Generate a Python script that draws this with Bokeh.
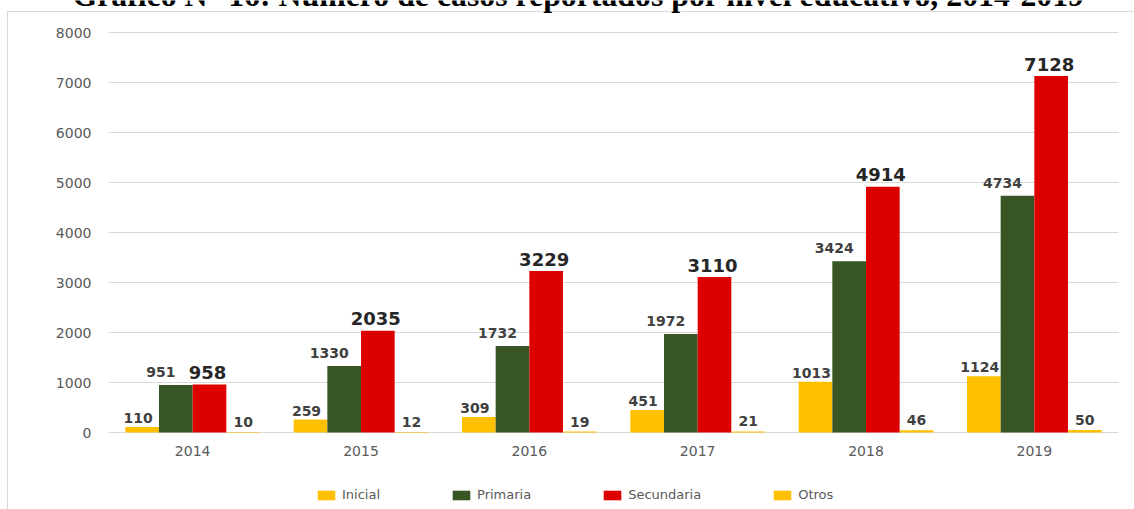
from bokeh.plotting import figure
from bokeh.models import ColumnDataSource, Range1d, Legend, LegendItem
from bokeh.transform import dodge
from bokeh.core.properties import value
from bokeh.embed import file_html
from bokeh.resources import INLINE

# ---- data ----
years = ["2014", "2015", "2016", "2017", "2018", "2019"]
inicial = [110, 259, 309, 451, 1013, 1124]
primaria = [951, 1330, 1732, 1972, 3424, 4734]
secundaria = [958, 2035, 3229, 3110, 4914, 7128]
otros = [10, 12, 19, 21, 46, 50]
series_names = ["Inicial", "Primaria", "Secundaria", "Otros"]
y_ticks = [0, 1000, 2000, 3000, 4000, 5000, 6000, 7000, 8000]
title_text = "Gráfico N° 16: Número de casos reportados por nivel educativo, 2014-2019"

n = len(years)
src = ColumnDataSource(dict(
    xc=[i + 0.5 for i in range(n)],          # category centres on the axis scale
    years=years,
    inicial=inicial, primaria=primaria, secundaria=secundaria, otros=otros,
    inicial_lbl=[str(v) for v in inicial],
    primaria_lbl=[str(v) for v in primaria],
    secundaria_lbl=[str(v) for v in secundaria],
    otros_lbl=[str(v) for v in otros],
))

# ---- layout in pixels ----
W, H = 1134, 509
plot_left, plot_right = 108, 1118     # pixel columns of the category band
top_px, zero_px = 32, 432             # pixel rows of the top tick and the 0 line
px_per_cat = (plot_right - plot_left) / n
upp = (y_ticks[-1] - y_ticks[0]) / (zero_px - top_px)
x_range = Range1d(-plot_left / px_per_cat, n + (W - plot_right) / px_per_cat)
y_range = Range1d(y_ticks[0] - (H - zero_px) * upp, y_ticks[-1] + top_px * upp)

p = figure(x_range=x_range, y_range=y_range,
           width=W, height=H, output_backend="svg", toolbar_location=None,
           x_axis_location=None, y_axis_location=None,
           min_border_left=0, min_border_right=0, min_border_top=0, min_border_bottom=0,
           styles={"background": "linear-gradient(#D9D9D9,#D9D9D9) 7px 11px / 1px 100% no-repeat, "
                                 "linear-gradient(#D9D9D9,#D9D9D9) 7px 11px / 100% 1px no-repeat, white"})
p.outline_line_color = None
p.background_fill_alpha = 0
p.border_fill_alpha = 0
p.xgrid.visible = False
p.ygrid.visible = False

# value grid lines and value axis labels
p.segment(x0=[0] * len(y_ticks), x1=[n] * len(y_ticks), y0=y_ticks, y1=y_ticks,
          line_color="#D9D9D9", line_width=1)
p.text(x=[0] * len(y_ticks), y=y_ticks, text=[str(t) for t in y_ticks], x_offset=-17,
       text_align="right", text_baseline="middle",
       text_font=value("DejaVu Sans"), text_font_size="14px", text_color="#595959")

# category labels under the 0 line
p.text(x="xc", y=y_ticks[0], text="years", source=src, y_offset=18,
       text_align="center", text_baseline="middle",
       text_font=value("DejaVu Sans"), text_font_size="14px", text_color="#595959")

specs = [
    ("inicial", "#FFC000", -0.3, -4, -9, "14px", "#404040"),
    ("primaria", "#375623", -0.1, -15, -13, "14px", "#404040"),
    ("secundaria", "#DD0000", 0.1, -2, -12, "18px", "#262626"),
    ("otros", "#FFC000", 0.3, 0, -10, "14px", "#404040"),
]
items = []
for (col, color, off, xoff, yoff, fsize, tcolor), name in zip(specs, series_names):
    r = p.vbar(x=dodge("xc", off), top=col, width=0.2, source=src,
               fill_color=color, line_color=None)
    p.text(x=dodge("xc", off), y=col, text=col + "_lbl", source=src,
           x_offset=xoff, y_offset=yoff, text_align="center", text_baseline="alphabetic",
           text_font=value("DejaVu Sans"), text_font_style="bold",
           text_font_size=fsize, text_color=tcolor)
    items.append(LegendItem(label=name, renderers=[r]))

# title (cut at the top edge, as in the reference)
p.text(x=[n / 2], y=[y_range.end], text=[title_text], x_offset=-35, y_offset=-5,
       text_align="center", text_baseline="alphabetic",
       text_font=value("Liberation Serif"), text_font_style="bold",
       text_font_size="31.8px", text_color="black")

legend = Legend(items=items, orientation="horizontal", location=(315, 7),
                glyph_width=22, glyph_height=12, label_height=12, label_standoff=5,
                spacing=70, padding=0, margin=0, border_line_color=None,
                background_fill_alpha=0, label_text_font="DejaVu Sans",
                label_text_font_size="13px", label_text_color="#595959")
p.add_layout(legend)

open("out.html", "w").write(file_html(p, INLINE))
